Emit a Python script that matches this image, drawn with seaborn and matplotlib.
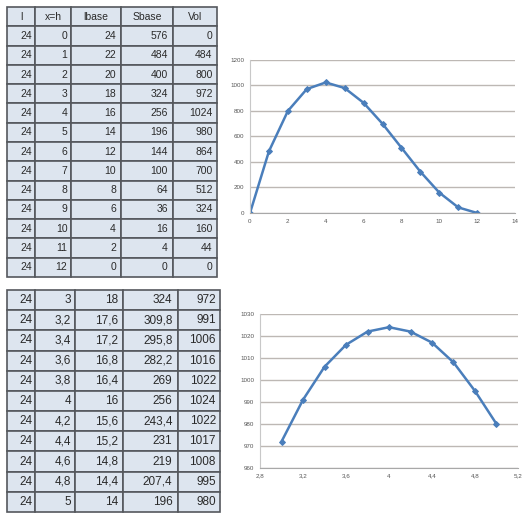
import matplotlib
matplotlib.use('Agg')
import matplotlib.pyplot as plt
import seaborn as sns
from matplotlib.ticker import MultipleLocator, FuncFormatter

# table 1: whole range of x
headers = ['l', 'x=h', 'lbase', 'Sbase', 'Vol']
l_value = 24
x_full = [0, 1, 2, 3, 4, 5, 6, 7, 8, 9, 10, 11, 12]
lbase_full = [24, 22, 20, 18, 16, 14, 12, 10, 8, 6, 4, 2, 0]
sbase_full = [576, 484, 400, 324, 256, 196, 144, 100, 64, 36, 16, 4, 0]
vol_full = [0, 484, 800, 972, 1024, 980, 864, 700, 512, 324, 160, 44, 0]

# table 2: zoom around the maximum
x_zoom = [3, 3.2, 3.4, 3.6, 3.8, 4, 4.2, 4.4, 4.6, 4.8, 5]
lbase_zoom = [18, 17.6, 17.2, 16.8, 16.4, 16, 15.6, 15.2, 14.8, 14.4, 14]
sbase_zoom = [324, 309.8, 295.8, 282.2, 269, 256, 243.4, 231, 219, 207.4, 196]
vol_zoom = [972, 991, 1006, 1016, 1022, 1024, 1022, 1017, 1008, 995, 980]

sns.set_style('white')
plt.rcParams['font.family'] = ['Liberation Sans', 'DejaVu Sans']

cell_fill = '#dde5ef'
edge_col = '#55585d'
text_col = '#2a2a2a'
line_col = '#4a7ebb'
grid_col = '#bdb8b4'
tick_col = '#555555'


def fmt(v):
    return f'{round(v, 2):g}'.replace('.', ',')


def draw_table(rect, rows, widths, size, header=None):
    ax = fig.add_axes(rect)
    ax.axis('off')
    tbl = ax.table(cellText=rows, colLabels=header, colWidths=widths,
                   cellLoc='right', colLoc='center', bbox=[0, 0, 1, 1])
    tbl.auto_set_font_size(False)
    tbl.set_fontsize(size)
    for (r, c), cell in tbl.get_celld().items():
        cell.set_facecolor(cell_fill)
        cell.set_edgecolor(edge_col)
        cell.set_linewidth(1.2)
        cell.get_text().set_color(text_col)
    return tbl


fig = plt.figure(figsize=(5.28, 5.23), dpi=100)

rows1 = [[fmt(l_value), fmt(a), fmt(b), fmt(c), fmt(d)]
         for a, b, c, d in zip(x_full, lbase_full, sbase_full, vol_full)]
draw_table([7 / 528, 1 - 277 / 523, 210 / 528, 270 / 523], rows1,
           [28, 36, 50, 52, 44], 7.5, header=headers)

rows2 = [[fmt(l_value), fmt(a), fmt(b), fmt(c), fmt(d)]
         for a, b, c, d in zip(x_zoom, lbase_zoom, sbase_zoom, vol_zoom)]
draw_table([7 / 528, 1 - 512 / 523, 213 / 528, 222 / 523], rows2,
           [28, 40, 48, 55, 42], 8.5)


def style_chart(ax):
    ax.set_xlabel('')
    ax.set_ylabel('')
    ax.yaxis.grid(True, color=grid_col, lw=1.0)
    ax.xaxis.grid(False)
    for s in ['top', 'right']:
        ax.spines[s].set_visible(False)
    ax.spines['left'].set_color('#c8c8c8')
    ax.spines['bottom'].set_color('#a8a8a8')
    ax.tick_params(axis='both', labelsize=4.5, colors=tick_col,
                   length=2, width=0.6, pad=2)
    ax.xaxis.set_major_formatter(FuncFormatter(lambda v, p: fmt(v)))
    ax.yaxis.set_major_formatter(FuncFormatter(lambda v, p: fmt(v)))


# top chart
ax1 = fig.add_axes([250 / 528, 1 - 213 / 523, 265 / 528, 153 / 523])
sns.lineplot(x=x_full, y=vol_full, ax=ax1, color=line_col, lw=1.8,
             marker='D', markersize=3, markeredgecolor=line_col)
ax1.set_xlim(0, 14)
ax1.set_ylim(0, 1200)
ax1.xaxis.set_major_locator(MultipleLocator(2))
ax1.yaxis.set_major_locator(MultipleLocator(200))
style_chart(ax1)

# bottom chart
ax2 = fig.add_axes([260 / 528, 1 - 468 / 523, 258 / 528, 154 / 523])
sns.lineplot(x=x_zoom, y=vol_zoom, ax=ax2, color=line_col, lw=1.8,
             marker='D', markersize=3, markeredgecolor=line_col)
ax2.set_xlim(2.8, 5.2)
ax2.set_ylim(960, 1030)
ax2.xaxis.set_major_locator(MultipleLocator(0.4))
ax2.yaxis.set_major_locator(MultipleLocator(10))
style_chart(ax2)

fig.savefig('out.png', dpi=100)
